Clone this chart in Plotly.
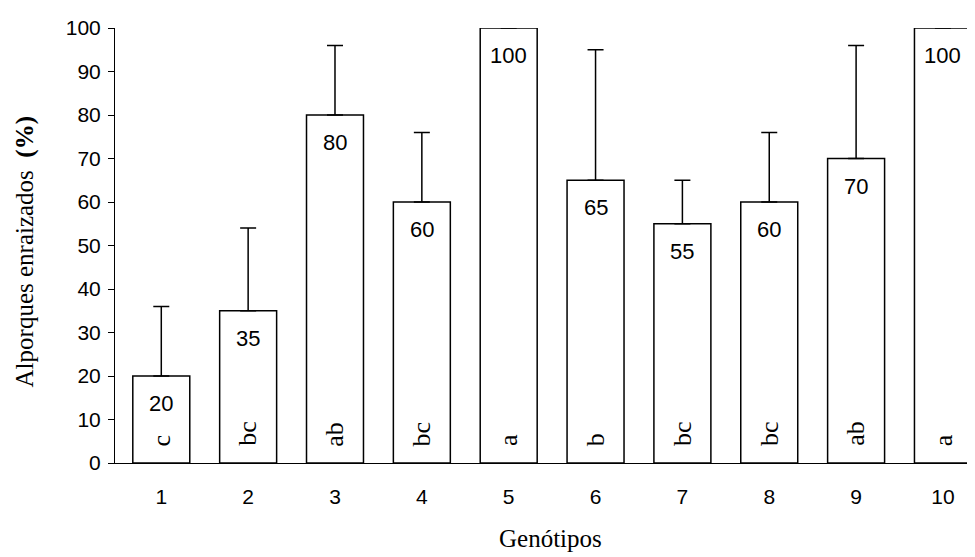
import plotly.graph_objects as go

genotipos = [1, 2, 3, 4, 5, 6, 7, 8, 9, 10]
tick_labels = ["1", "2", "3", "4", "5", "6", "7", "8", "9", "10"]
enraizados = [20, 35, 80, 60, 100, 65, 55, 60, 70, 100]
erro = [16, 19, 16, 16, 0, 30, 10, 16, 26, 0]
letras = ["c", "bc", "ab", "bc", "a", "b", "bc", "bc", "ab", "a"]

W, H = 975, 557
OFF = 8  # default page body margin of the written html
# desired plot area in screen pixels: left 115, top 24, right 975, bottom 463
ML, MT = 115 - OFF, 24 - OFF
MR = W - (975 - OFF)
MB = H - (463 - OFF)
PW, PH = W - ML - MR, H - MT - MB


def px_to_paper(x, y):
    # x, y in screen pixels
    return (x - OFF - ML) / PW, 1 - (y - OFF - MT) / PH


fig = go.Figure()
fig.add_trace(go.Bar(
    x=genotipos, y=enraizados, width=0.656,
    marker=dict(color="white", line=dict(color="black", width=1.5)),
    error_y=dict(type="data", symmetric=False, array=erro,
                 arrayminus=[0] * len(erro), color="black",
                 thickness=1.5, width=8),
    showlegend=False, hoverinfo="skip",
))

ann = []
for g, v, l in zip(genotipos, enraizados, letras):
    ann.append(dict(x=g, y=v, xref="x", yref="y", text=str(v), showarrow=False,
                    yanchor="top", yshift=-13,
                    font=dict(family="Liberation Sans, Arial", size=22, color="black")))
    ann.append(dict(x=g, y=3.4, xref="x", yref="y", text=l, showarrow=False,
                    textangle=-90, yanchor="bottom", xanchor="center",
                    font=dict(family="Liberation Serif, Times New Roman", size=26, color="black")))

gx, gy = px_to_paper(550, 539)
ann.append(dict(x=gx, y=gy, xref="paper", yref="paper", text="Genótipos",
                showarrow=False, xanchor="center", yanchor="middle",
                font=dict(family="Liberation Serif, Times New Roman", size=25, color="black")))
tx, ty = px_to_paper(24.5, 250)
ann.append(dict(x=tx, y=ty, xref="paper", yref="paper",
                text="Alporques enraizados  <b>(%)</b>", textangle=-90,
                showarrow=False, xanchor="center", yanchor="middle",
                font=dict(family="Liberation Serif, Times New Roman", size=25, color="black")))

fig.update_layout(
    width=W, height=H,
    margin=dict(l=ML, r=MR, t=MT, b=MB),
    plot_bgcolor="white", paper_bgcolor="white",
    annotations=ann,
    xaxis=dict(range=[0.467, 10.369], tickmode="array", tickvals=genotipos,
               ticktext=tick_labels, showline=True, linecolor="black", linewidth=1,
               ticks="", showgrid=False, zeroline=False, ticklabelstandoff=15,
               tickfont=dict(family="Liberation Sans, Arial", size=21, color="black")),
    yaxis=dict(range=[0, 100], tickmode="array", tickvals=list(range(0, 101, 10)),
               showline=True, linecolor="black", linewidth=1, ticks="outside",
               ticklen=6, tickcolor="black", showgrid=False, zeroline=False,
               ticklabelstandoff=3,
               tickfont=dict(family="Liberation Sans, Arial", size=21, color="black")),
)

fig.write_html("out.html")
